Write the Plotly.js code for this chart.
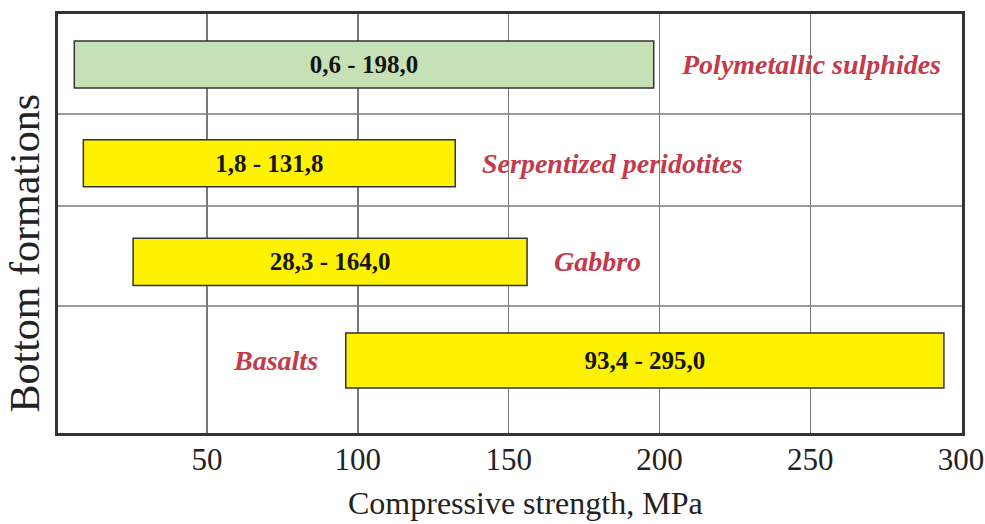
<!DOCTYPE html>
<html>
<head>
<meta charset="utf-8">
<script src="https://cdn.plot.ly/plotly-3.0.1.min.js"></script>
<style>
  html, body { margin: 0; padding: 0; background: #fff; }
  #chart { width: 985px; height: 524px; }
</style>
</head>
<body>
<div id="chart"></div>
<script>
// ---- data ----
const formations = ['Basalts', 'Gabbro', 'Serpentized peridotites', 'Polymetallic sulphides'];
const rangeStart = [96.0, 25.5, 9.0, 6.0];
const rangeEnd = [294.3, 156.1, 132.3, 198.1];
const rangeLabels = ['93,4 - 295,0', '28,3 - 164,0', '1,8 - 131,8', '0,6 - 198,0'];
const xTickValues = [50, 100, 150, 200, 250, 300];
const xTitle = 'Compressive strength, MPa';
const yTitle = 'Bottom formations';

// ---- styles ----
const fontFam = 'Liberation Serif';
const barColors = ['#fff200', '#fff200', '#fff200', '#c6e1b6'];
const barWidths = [0.557, 0.48, 0.476, 0.476];
const labelColor = '#c23a4b';
const bandLines = [0.552, 1.566, 2.498];

const trace = {
  type: 'bar',
  orientation: 'h',
  y: formations,
  base: rangeStart,
  x: rangeEnd.map((e, i) => e - rangeStart[i]),
  width: barWidths,
  text: rangeLabels.map(t => '<b>' + t + '</b>'),
  textposition: 'inside',
  insidetextanchor: 'middle',
  textangle: 0,
  constraintext: 'none',
  textfont: { family: fontFam, size: 25, color: '#151515' },
  marker: { color: barColors, line: { color: '#333333', width: 1.5 } },
  hoverinfo: 'skip',
  showlegend: false
};

const annotations = formations.map((name, i) => {
  const onLeft = rangeEnd[i] > 250;
  return {
    x: onLeft ? rangeStart[i] : rangeEnd[i],
    y: name,
    xref: 'x', yref: 'y',
    text: '<b><i>' + name + '</i></b>',
    showarrow: false,
    xanchor: onLeft ? 'right' : 'left',
    xshift: onLeft ? -26 : 25,
    font: { family: fontFam, size: 28, color: labelColor }
  };
});

// axis titles placed as annotations to match the reference offsets
annotations.push({
  xref: 'paper', yref: 'paper', x: 0.5, y: 0, yshift: -70, xshift: 15,
  xanchor: 'center', yanchor: 'middle',
  text: xTitle, showarrow: false,
  font: { family: fontFam, size: 32, color: '#222' }
});
annotations.push({
  xref: 'paper', yref: 'paper', x: 0, y: 0.5, xshift: -34, yshift: -30,
  xanchor: 'center', yanchor: 'middle', textangle: -90,
  text: yTitle, showarrow: false,
  font: { family: fontFam, size: 42, color: '#222' }
});

const shapes = bandLines.map(v => ({
  type: 'line', xref: 'paper', yref: 'y', x0: 0, x1: 1, y0: v, y1: v,
  line: { color: '#7a7a7a', width: 1.5 }, layer: 'below'
}));

const layout = {
  width: 985, height: 524,
  margin: { l: 58, r: 23, t: 14, b: 91 },
  paper_bgcolor: '#ffffff', plot_bgcolor: '#ffffff',
  font: { family: fontFam, color: '#222' },
  bargap: 0,
  xaxis: {
    range: [0.6, 300.3],
    tickvals: xTickValues,
    ticks: '',
    ticklabelstandoff: -3,
    showgrid: true, gridcolor: '#7a7a7a', gridwidth: 1.5,
    zeroline: false,
    showline: true, mirror: true, linecolor: '#333333', linewidth: 3,
    tickfont: { family: fontFam, size: 31, color: '#222' }
  },
  yaxis: {
    type: 'category',
    categoryorder: 'array', categoryarray: formations,
    range: [-0.735, 3.512],
    showticklabels: false, ticks: '',
    showgrid: false, zeroline: false,
    showline: true, mirror: true, linecolor: '#333333', linewidth: 3
  },
  shapes: shapes,
  annotations: annotations
};

Plotly.newPlot('chart', [trace], layout, { displayModeBar: false, staticPlot: true });
</script>
</body>
</html>
